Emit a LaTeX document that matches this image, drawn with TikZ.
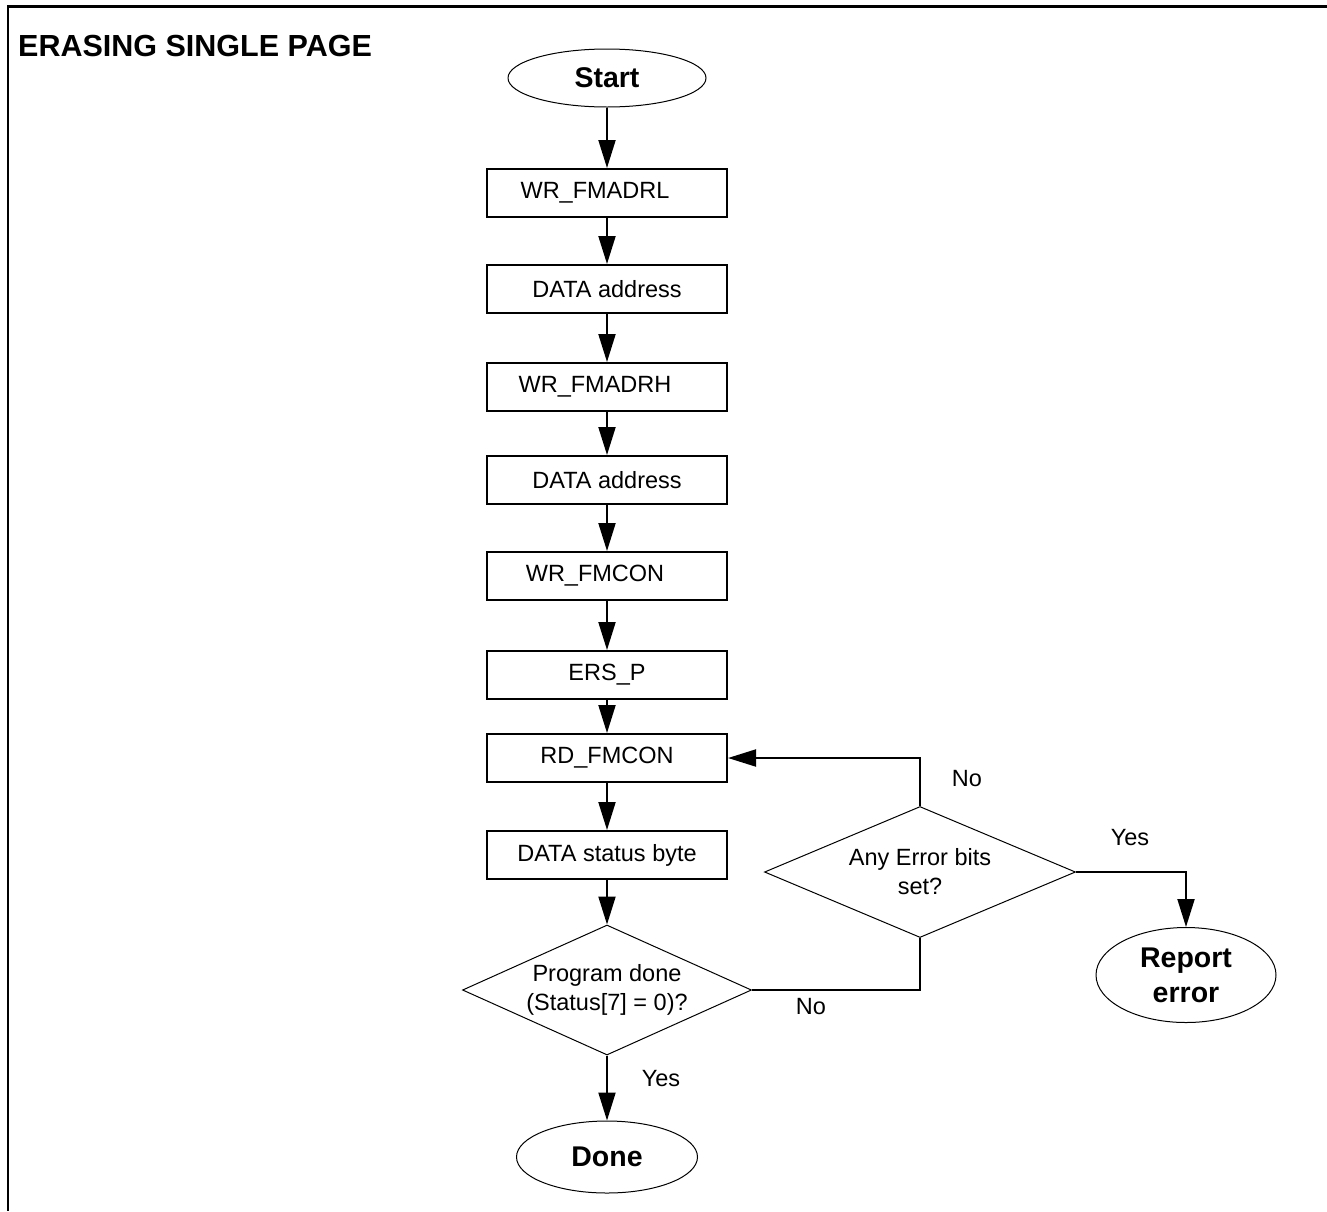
\documentclass[tikz,border=0pt]{standalone}
\usepackage{fontspec}
\setmainfont{Liberation Sans}
\usetikzlibrary{shapes.geometric,arrows.meta}

\begin{document}
\begin{tikzpicture}[x=1pt,y=-1pt,
  every node/.style={font=\fontsize{23.5}{29}\selectfont},
  stepbox/.style={draw, line width=2pt, minimum width=240pt, minimum height=48pt, inner sep=0pt},
  terminal/.style={draw, ellipse, line width=1pt, inner sep=0pt, align=center,
    font=\bfseries\fontsize{28.5}{35}\selectfont},
  decision/.style={draw, diamond, line width=1pt, inner sep=0pt, align=center, aspect=2.2},
  flow/.style={line width=2pt, -{Triangle[length=28pt,width=17pt]}},
  link/.style={line width=2pt},
  tag/.style={inner sep=0pt}
]
\useasboundingbox (0,0) rectangle (1327,1211);

% outer frame (top and left edges only)
\draw[line width=2.4pt] (1327,6.5) -- (8,6.5) -- (8,1211);

\node[anchor=west, inner sep=0pt, font=\bfseries\fontsize{30.5}{36}\selectfont] (title) at (18,46) {ERASING SINGLE PAGE};

% main column
\node[terminal, minimum width=198pt, minimum height=58pt] (start) at (607,78) {Start};
\node[stepbox] (b1) at (607,193) {WR\_FMADRL\hspace*{24pt}};
\node[stepbox] (b2) at (607,289) {DATA address};
\node[stepbox] (b3) at (607,387) {WR\_FMADRH\hspace*{24pt}};
\node[stepbox] (b4) at (607,480) {DATA address};
\node[stepbox] (b5) at (607,576) {WR\_FMCON\hspace*{24pt}};
\node[stepbox] (b6) at (607,675) {ERS\_P};
\node[stepbox] (b7) at (607,758) {RD\_FMCON};
\node[stepbox] (b8) at (607,855) {DATA status byte};
\node[decision, minimum width=289pt, minimum height=130pt] (pd) at (607,990) {Program done\\(Status[7] = 0)?};
\node[terminal, minimum width=181pt, minimum height=72pt] (done) at (607,1157) {Done};

% error check branch
\node[decision, minimum width=311pt, minimum height=131pt] (err) at (920,872) {Any Error bits\\set?};
\node[terminal, minimum width=180pt, minimum height=95pt] (report) at (1186,975) {Report\\error};

% connectors
\draw[flow] (start) -- (b1);
\draw[flow] (b1) -- (b2);
\draw[flow] (b2) -- (b3);
\draw[flow] (b3) -- (b4);
\draw[flow] (b4) -- (b5);
\draw[flow] (b5) -- (b6);
\draw[flow] (b6) -- (b7);
\draw[flow] (b7) -- (b8);
\draw[flow] (b8) -- (pd);
\draw[flow] (pd) -- (done);
\draw[flow] (err.north) |- (b7.east);
\draw[flow] (err.east) -| (report.north);
\draw[link] (err.south) |- (pd.east);

% branch labels
\node[tag] (nodone) at (967,779) {No};
\node[tag] (yeserr) at (1130,838) {Yes};
\node[tag] (noerr) at (811,1007) {No};
\node[tag] (yesdone) at (661,1079) {Yes};
\end{tikzpicture}
\end{document}
